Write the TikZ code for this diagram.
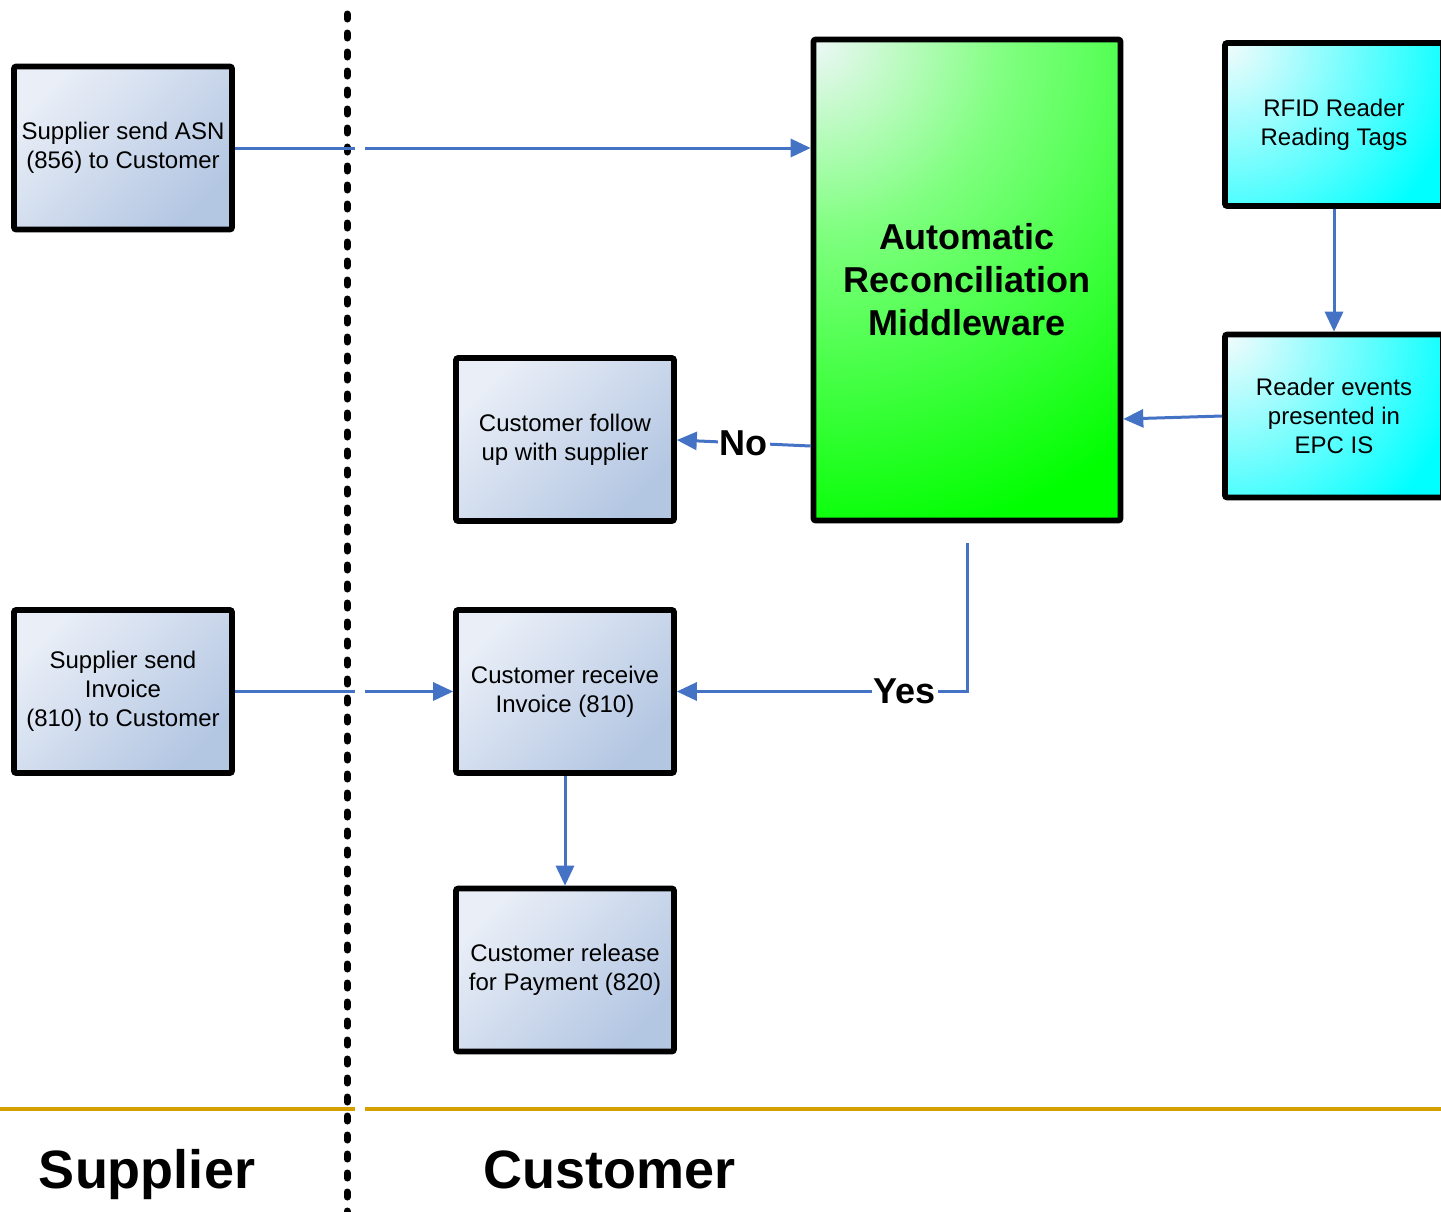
\documentclass[tikz,border=0pt]{standalone}
\usepackage{fontspec}
\setmainfont{Liberation Sans}
\usetikzlibrary{arrows.meta}
\definecolor{flowblue}{HTML}{4472C4}
\definecolor{goldline}{HTML}{D4A000}
\definecolor{boxlight}{HTML}{E9EEF7}
\definecolor{boxdark}{HTML}{B3C6E2}
\definecolor{mwlight}{HTML}{EEF7F8}
\definecolor{mwmid}{HTML}{80FF80}
\definecolor{mwdark}{HTML}{00FF00}
\definecolor{cylight}{HTML}{F4FBFC}
\definecolor{cydark}{HTML}{00FFFF}
\pgfdeclareradialshading{mwrad}{\pgfpoint{0bp}{0bp}}{color(0bp)=(mwlight); color(6bp)=(mwmid); color(16bp)=(mwdark); color(50bp)=(mwdark)}
\pgfdeclareradialshading{cyrad}{\pgfpoint{0bp}{0bp}}{color(0bp)=(cylight); color(12bp)=(cydark); color(50bp)=(cydark)}
\begin{document}
\begin{tikzpicture}[x=0.5pt,y=-0.5pt,
  boxbase/.style={draw=black, line width=2.8pt, rounded corners=1pt,
    inner sep=0pt, align=center},
  procbox/.style={boxbase, minimum width=109pt, minimum height=81.5pt,
    font=\fontsize{12}{14.5}\selectfont,
    top color=boxlight, bottom color=boxdark, shading angle=45},
  cybox/.style={boxbase, minimum width=109pt, minimum height=81.5pt,
    font=\fontsize{12}{14.5}\selectfont, fill=cydark,
    path picture={\shade[shading=cyrad]
      (path picture bounding box.north west) circle (250pt);}},
  mwbox/.style={boxbase, minimum width=153.5pt, minimum height=240.5pt,
    font=\bfseries\fontsize{18}{21.5}\selectfont, fill=mwdark,
    path picture={\shade[shading=mwrad]
      (path picture bounding box.north west) circle (400pt);}},
  flow/.style={draw=flowblue, line width=1.5pt},
  flowarrow/.style={flow, -{Triangle[length=10pt,width=9pt]}},
  edgelabel/.style={fill=white, inner sep=1pt, font=\bfseries\fontsize{18}{21}\selectfont},
  lanelabel/.style={font=\bfseries\fontsize{27}{32}\selectfont, anchor=base},
  divider/.style={draw=black, line width=3.5pt, line cap=round, dash pattern=on 2.5pt off 7pt},
  laneline/.style={draw=goldline, line width=2pt}
]
\useasboundingbox (0,0) rectangle (1441,1211);

% lane lines
\coordinate (laneA) at (0,1109);
\coordinate (laneB) at (355,1109);
\coordinate (laneC) at (365,1109);
\coordinate (laneD) at (1441,1109);
\draw[laneline] (laneA) -- (laneB);
\draw[laneline] (laneC) -- (laneD);

% divider
\coordinate (divtop) at (347,14);
\coordinate (divbot) at (347,1215);
\draw[divider] (divtop) -- (divbot);

% nodes
\node[procbox] (asn) at (123,148) {Supplier send ASN\\(856) to Customer};
\node[procbox] (sinv) at (123,691.5) {Supplier send\\Invoice\\(810) to Customer};
\node[procbox] (follow) at (565,439.5) {Customer follow\\up with supplier};
\node[procbox] (recv) at (565,691.5) {Customer receive\\Invoice (810)};
\node[procbox] (release) at (565,970) {Customer release\\for Payment (820)};
\node[mwbox] (mw) at (967,280) {Automatic\\Reconciliation\\Middleware};
\node[cybox] (rfid) at (1334,124.5) {RFID Reader\\Reading Tags};
\node[cybox] (reader) at (1334,416) {Reader events\\presented in\\EPC IS};

% connectors
\coordinate (gapL1) at (355,148);
\coordinate (gapR1) at (365,148);
\draw[flow] (asn.east) -- (gapL1);
\draw[flowarrow] (gapR1) -- (mw.west |- gapR1);

\coordinate (gapL2) at (355,691.5);
\coordinate (gapR2) at (365,691.5);
\draw[flow] (sinv.east) -- (gapL2);
\draw[flowarrow] (gapR2) -- (recv.west);

\draw[flowarrow] (mw.west |- 0,446) -- node[edgelabel] {No} (follow.east |- 0,440);

\coordinate (ystart) at ([yshift=-10pt]mw.south);
\draw[flowarrow] (ystart) |- node[pos=0.607, edgelabel] {Yes} (recv.east);

\draw[flowarrow] (reader.west) -- (mw.east |- 0,419);
\draw[flowarrow] (rfid.south) -- (reader.north);
\draw[flowarrow] (recv.south) -- (release.north);

% lane labels
\node[lanelabel] (suplab) at (147,1188) {Supplier};
\node[lanelabel] (custlab) at (610,1188) {Customer};
\end{tikzpicture}
\end{document}
